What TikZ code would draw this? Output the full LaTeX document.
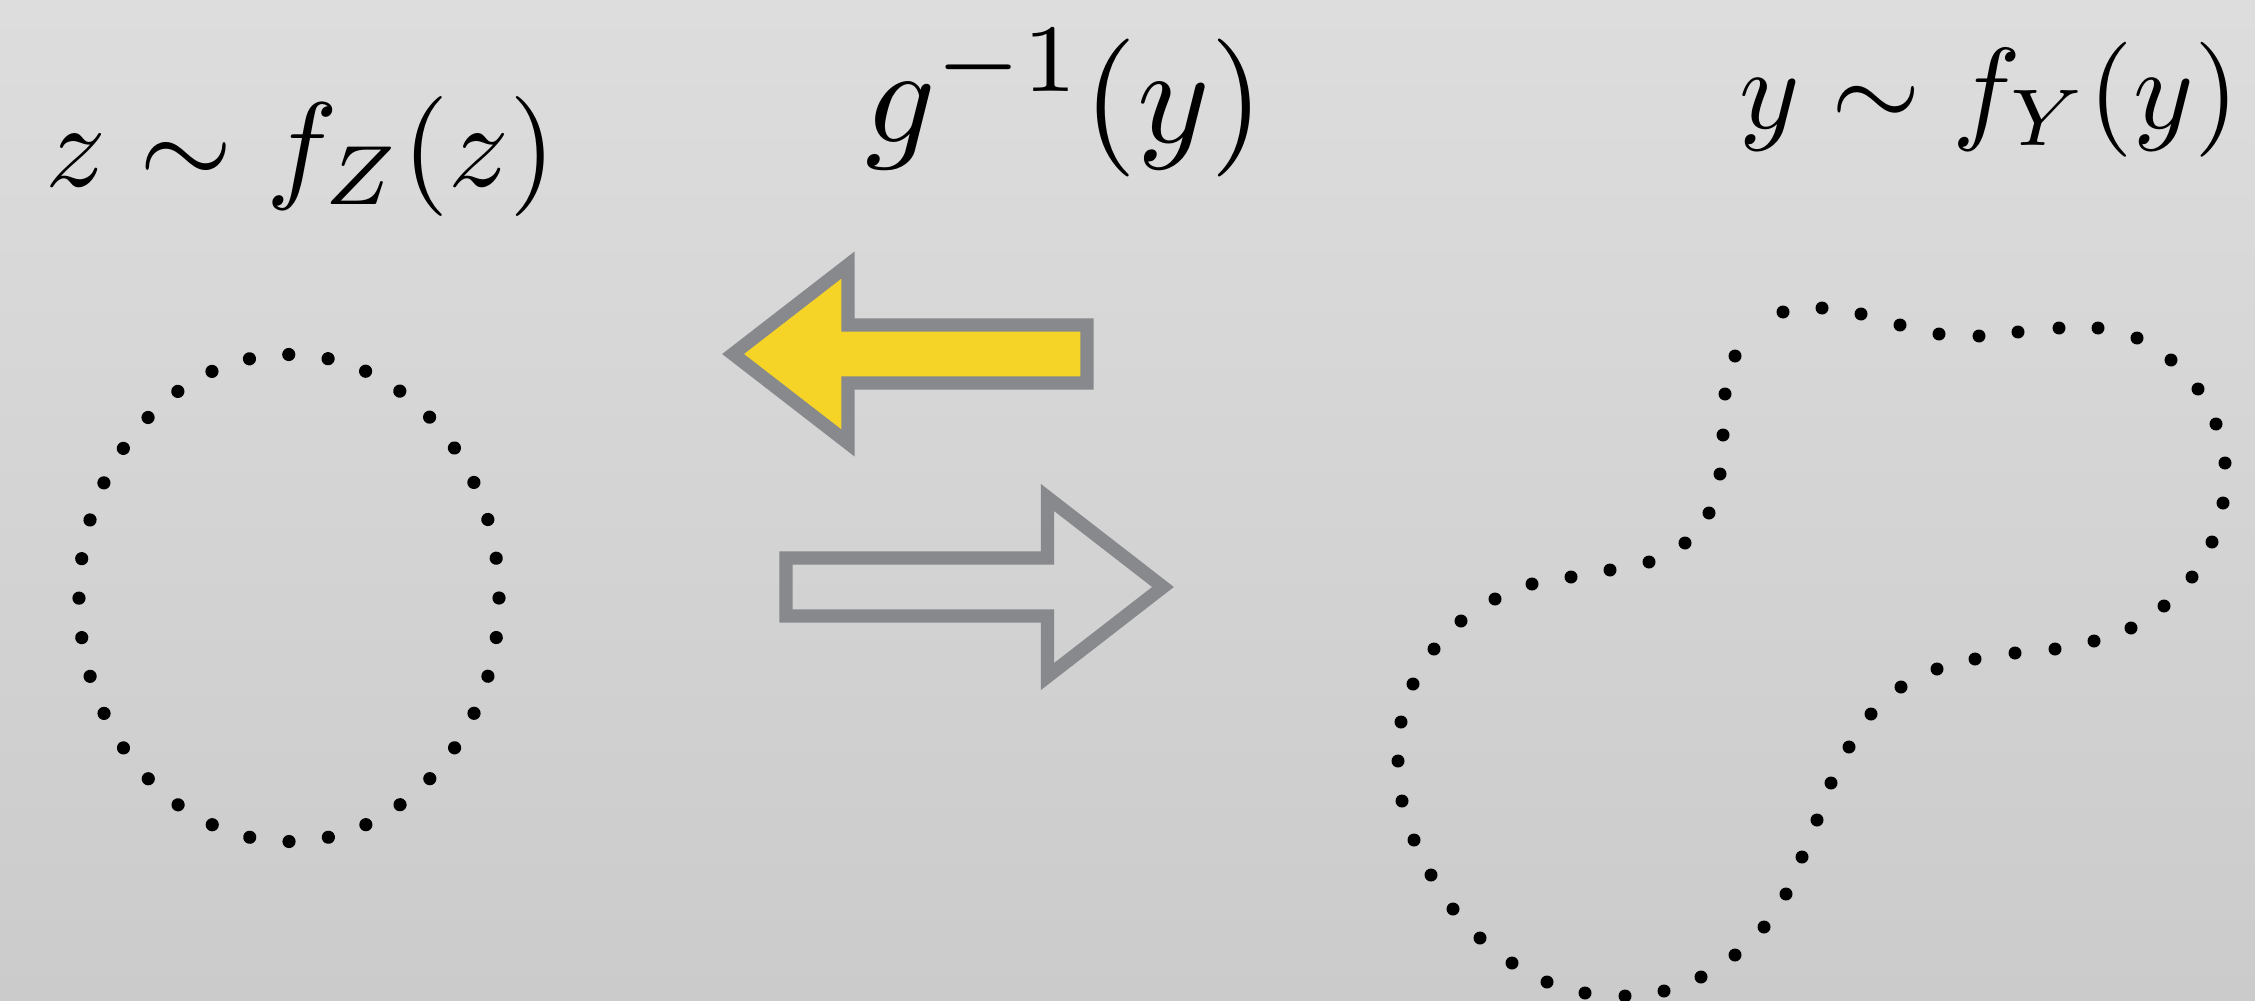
\documentclass[tikz,border=0pt]{standalone}
\usetikzlibrary{decorations.markings}
\definecolor{bgtop}{RGB}{221,221,221}
\definecolor{bgbot}{RGB}{203,203,203}
\definecolor{arrgray}{RGB}{135,137,141}
\definecolor{arryellow}{RGB}{246,211,39}
\tikzset{
  lbl/.style={inner sep=0pt, outer sep=0pt, anchor=base west},
  bigarrow/.style={draw=arrgray, line width=13.3pt, line join=miter, miter limit=10},
  dotc/.style={black}
}
\begin{document}
\begin{tikzpicture}[x=1pt,y=-1pt]
\shade[top color=bgtop,bottom color=bgbot] (0,0) rectangle (2255,1001);
\useasboundingbox (0,0) rectangle (2255,1001);

% labels
\node[lbl, scale=12] (lz) at (45,186.6) {$z \sim f_Z(z)$};
\node[lbl, scale=13.8] (lg) at (865,142) {$g^{-1}(y)$};
\node[lbl, scale=11.5] (ly) at (1739,128) {$y \sim f_Y(y)$};

% arrows
\draw[bigarrow, fill=arryellow] (733,354) -- (848,265) -- (848,325) -- (1087,325)
  -- (1087,383) -- (848,383) -- (848,443) -- cycle;
\draw[bigarrow] (786,558) -- (1047.5,558) -- (1047.5,497.5) -- (1163,587)
  -- (1047.5,676.5) -- (1047.5,616) -- (786,616) -- cycle;

% left dotted ellipse
\path[decorate, decoration={markings,
  mark=between positions 0 and 0.99 step 0.0277778 with {\fill[dotc] (0,0) circle (6.6);}}]
  (289,598) ellipse (210 and 243.5);

% right dotted blob
\foreach \x/\y in {1783/312, 1822/308, 1861/314, 1900/325, 1939/334, 1979/336,
  2018/332, 2059/328, 2098/328, 2137/338, 2171/360, 2198/389, 2216/424, 2225/463,
  2223/503, 2212/542, 2192/577, 2164/606, 2131/628, 2094/641, 2055/649, 2015/653,
  1975/659, 1937/669, 1901/687, 1871/714, 1849/747, 1831/783, 1817/820, 1802/857,
  1786/894, 1764/927, 1735/955, 1701/977, 1664/991, 1625/996, 1585/993, 1547/982,
  1512/963, 1480/938, 1453/909, 1431/875, 1414/840, 1402/801, 1398/761, 1401/722,
  1413/684, 1434/649, 1461/621, 1495/599, 1532/584, 1571/577, 1610/570, 1649/562,
  1685/543, 1709/513, 1720/474, 1723/435, 1725/394, 1735/356}
  \fill[dotc] (\x,\y) circle (6.5);
\end{tikzpicture}
\end{document}
